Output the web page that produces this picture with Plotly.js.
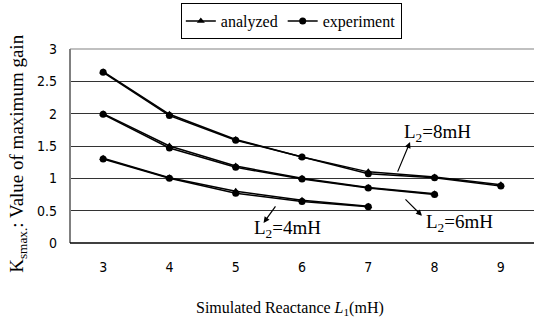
<!DOCTYPE html>
<html>
<head>
<meta charset="utf-8">
<script src="https://cdn.plot.ly/plotly-3.0.1.min.js"></script>
<style>
html,body{margin:0;padding:0;background:#fff;}
#chart{width:534px;height:327px;}
</style>
</head>
<body>
<div id="chart"></div>
<script>
// Simulated reactance L1 (mH)
const x8 = [3, 4, 5, 6, 7, 8, 9];
const x6 = [3, 4, 5, 6, 7, 8];
const x4 = [3, 4, 5, 6, 7];
// L2 = 8 mH
const analyzed8   = [2.65, 1.99, 1.60, 1.33, 1.10, 1.02, 0.90];
const experiment8 = [2.64, 1.97, 1.59, 1.33, 1.07, 1.01, 0.88];
// L2 = 6 mH
const analyzed6   = [2.00, 1.50, 1.19, 1.00, 0.86, 0.76];
const experiment6 = [1.99, 1.47, 1.17, 0.99, 0.85, 0.75];
// L2 = 4 mH
const analyzed4   = [1.31, 1.01, 0.80, 0.66, 0.57];
const experiment4 = [1.30, 1.00, 0.77, 0.64, 0.56];
const xTicks = [3, 4, 5, 6, 7, 8, 9];
const yTicks = [0, 0.5, 1, 1.5, 2, 2.5, 3];

const serif = "Liberation Serif, Times New Roman, serif";
const narrow = "Liberation Sans Narrow, Arial Narrow, DejaVu Sans Condensed, sans-serif";

function tr(x, y, name, sym, show) {
  return {
    x: x, y: y, name: name, type: 'scatter', mode: 'lines+markers',
    legendgroup: name, showlegend: show,
    line: {color: '#000', width: 1.5},
    marker: {symbol: sym, size: 7, color: '#000'}
  };
}

const data = [
  tr(x8, analyzed8, 'analyzed', 'triangle-up', true),
  tr(x8, experiment8, 'experiment', 'circle', true),
  tr(x6, analyzed6, 'analyzed', 'triangle-up', false),
  tr(x6, experiment6, 'experiment', 'circle', false),
  tr(x4, analyzed4, 'analyzed', 'triangle-up', false),
  tr(x4, experiment4, 'experiment', 'circle', false)
];

const annFont = {family: serif, size: 19, color: '#000'};
const layout = {
  width: 534, height: 327,
  margin: {l: 70, r: 0, t: 49, b: 84},
  paper_bgcolor: '#fff', plot_bgcolor: '#fff',
  showlegend: true,
  legend: {
    orientation: 'h', x: 0.477, xanchor: 'center', y: 1.237, yanchor: 'top',
    bordercolor: '#000', borderwidth: 1, font: {family: serif, size: 16, color: '#000'},
    itemwidth: 30, tracegroupgap: 0
  },
  xaxis: {
    range: [2.5, 9.5], tickvals: xTicks, ticktext: xTicks.map(String),
    showgrid: false, zeroline: false, showline: false, ticks: '',
    ticklabelstandoff: 14,
    tickfont: {family: narrow, size: 14, color: '#000'}
  },
  yaxis: {
    range: [0, 3], tickvals: yTicks, ticktext: yTicks.map(String),
    showgrid: true, gridcolor: '#333', gridwidth: 1,
    zeroline: false, showline: false, ticks: '',
    ticklabelstandoff: 12,
    tickfont: {family: narrow, size: 14, color: '#000'}
  },
  shapes: [
    {type: 'line', xref: 'paper', yref: 'paper', x0: 0, x1: 1, y0: 1, y1: 1, line: {color: '#c0c0c0', width: 2}},
    {type: 'line', xref: 'paper', yref: 'paper', x0: 0, x1: 0, y0: 0, y1: 1, line: {color: '#808080', width: 2}},
    {type: 'line', xref: 'paper', yref: 'paper', x0: 0, x1: 1, y0: 0, y1: 0, line: {color: '#000', width: 1.5}}
  ],
  annotations: [
    {xref: 'paper', yref: 'paper', x: 0.475, y: -0.34, xanchor: 'center', yanchor: 'middle', showarrow: false,
     text: 'Simulated Reactance <i>L</i><sub>1</sub>(mH)', font: {family: serif, size: 16, color: '#000'}},
    {xref: 'paper', yref: 'paper', x: -0.112, y: 0.46, xanchor: 'center', yanchor: 'middle', showarrow: false, textangle: -90,
     text: 'K<sub>smax.</sub>: Value of maximum gain', font: {family: serif, size: 19, color: '#000'}},
    {x: 8.04, y: 1.70, text: 'L<sub>2</sub>=8mH', showarrow: false, font: annFont},
    {x: 8.38, y: 0.31, text: 'L<sub>2</sub>=6mH', showarrow: false, font: annFont},
    {x: 5.78, y: 0.22, text: 'L<sub>2</sub>=4mH', showarrow: false, font: annFont},
    {x: 7.63, y: 1.56, ax: -13, ay: 31, text: '', showarrow: true, arrowhead: 2, arrowsize: 1, arrowwidth: 1.2, arrowcolor: '#000'},
    {x: 7.81, y: 0.42, ax: -18, ay: -18, text: '', showarrow: true, arrowhead: 2, arrowsize: 1, arrowwidth: 1.2, arrowcolor: '#000'},
    {x: 5.42, y: 0.31, ax: 13, ay: -18, text: '', showarrow: true, arrowhead: 2, arrowsize: 1, arrowwidth: 1.2, arrowcolor: '#000'}
  ]
};

Plotly.newPlot('chart', data, layout, {staticPlot: true, displayModeBar: false});
</script>
</body>
</html>
